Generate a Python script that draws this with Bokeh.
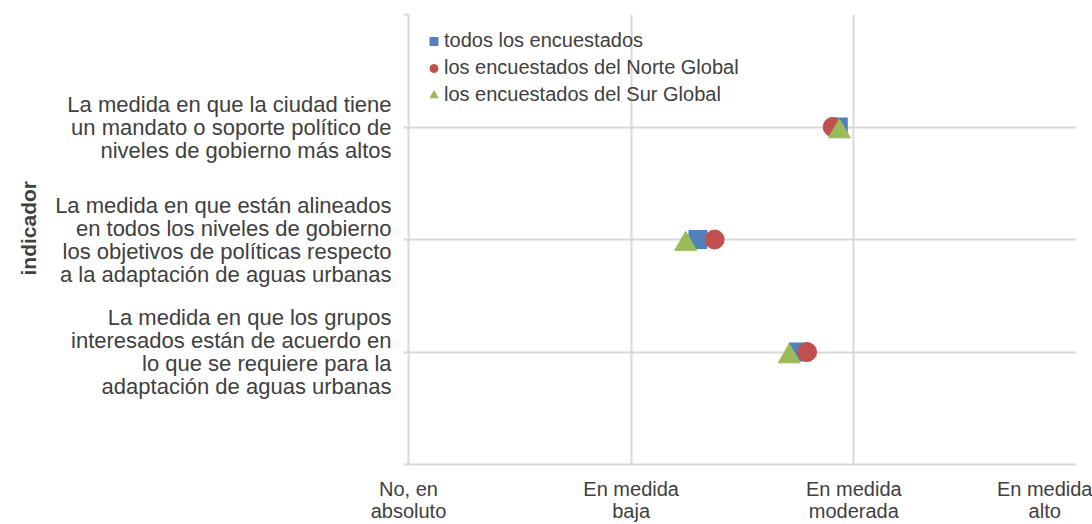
from bokeh.plotting import figure
from bokeh.models import ColumnDataSource, FixedTicker, Legend, LegendItem, Range1d, Title
from bokeh.transform import dodge
from bokeh.embed import file_html
from bokeh.resources import INLINE

# ---- data ----
indicators = [
    "La medida en que la ciudad tiene\nun mandato o soporte político de\nniveles de gobierno más altos",
    "La medida en que están alineados\nen todos los niveles de gobierno\nlos objetivos de políticas respecto\na la adaptación de aguas urbanas",
    "La medida en que los grupos\ninteresados están de acuerdo en\nlo que se requiere para la\nadaptación de aguas urbanas",
]
scale_labels = ["No, en\nabsoluto", "En medida\nbaja", "En medida\nmoderada", "En medida\nalto"]
series_names = ["todos los encuestados", "los encuestados del Norte Global", "los encuestados del Sur Global"]
axis_title = "indicador"
todos = [1.93, 1.30, 1.75]
norte = [1.905, 1.375, 1.79]
sur = [1.935, 1.245, 1.71]

TXT = "#404040"
GRID = "#d9d9d9"
FONT = "Liberation Sans"

n = len(indicators)
ypos = [n - i for i in range(n)]  # 3, 2, 1

p = figure(width=1092, height=524, output_backend="svg", toolbar_location=None,
           x_range=Range1d(0, len(scale_labels) - 1), y_range=Range1d(0, n + 1),
           min_border_left=408, min_border_top=14, min_border_right=16, min_border_bottom=60)
p.outline_line_color = None

src = ColumnDataSource(dict(y=ypos, todos=todos, norte=norte, sur=sur))

r1 = p.scatter(x="todos", y="y", source=src, marker="square", size=18,
               fill_color="#4f81bd", line_color="#4f81bd")
r2 = p.scatter(x="norte", y="y", source=src, marker="circle", size=19,
               fill_color="#c0504d", line_color="#c0504d")
r3 = p.scatter(x="sur", y=dodge("y", -0.04, range=p.y_range), source=src, marker="triangle", size=22,
               fill_color="#9bbb59", line_color="#9bbb59")

# x axis
p.xaxis.ticker = FixedTicker(ticks=list(range(len(scale_labels))))
p.xaxis.major_label_overrides = {i: s for i, s in enumerate(scale_labels)}
p.xaxis.major_label_text_font = FONT
p.xaxis.major_label_text_font_size = "20px"
p.xaxis.major_label_text_color = TXT
p.xaxis.major_label_text_line_height = 1.0
p.xaxis.major_label_standoff = 13
p.xaxis.axis_line_color = GRID
p.xaxis.axis_line_width = 2
p.xaxis.major_tick_line_color = None
p.xaxis.major_tick_out = 0
p.xaxis.major_tick_in = 0
p.xaxis.minor_tick_line_color = None

# y axis
p.yaxis.ticker = FixedTicker(ticks=list(range(n + 2)))
ov = {0: "", n + 1: ""}
for i, s in enumerate(indicators):
    ov[ypos[i]] = s
p.yaxis.major_label_overrides = ov
p.yaxis.axis_line_color = GRID
p.yaxis.axis_line_width = 2
p.yaxis.major_tick_line_color = GRID
p.yaxis.major_tick_line_width = 2
p.yaxis.major_tick_in = 0
p.yaxis.major_tick_out = 5
p.yaxis.minor_tick_line_color = None
p.yaxis.major_label_standoff = 12
p.yaxis.major_label_text_font = FONT
p.yaxis.major_label_text_font_size = "22px"
p.yaxis.major_label_text_color = TXT
p.yaxis.major_label_text_line_height = 0.92
p.yaxis.major_label_text_align = "right"

title = Title(text=axis_title, align="left", offset=189, standoff=26,
              text_font=FONT, text_font_size="21px", text_font_style="bold", text_color=TXT)
p.add_layout(title, "left")

p.xgrid.ticker = FixedTicker(ticks=list(range(1, len(scale_labels))))
p.ygrid.ticker = FixedTicker(ticks=list(range(1, n + 2)))
p.xgrid.grid_line_color = GRID
p.ygrid.grid_line_color = GRID
p.xgrid.grid_line_width = 2
p.ygrid.grid_line_width = 2

legend = Legend(items=[LegendItem(label=series_names[0], renderers=[r1]),
                       LegendItem(label=series_names[1], renderers=[r2]),
                       LegendItem(label=series_names[2], renderers=[r3])],
                location="top_left", margin=15, padding=10, spacing=4,
                glyph_width=21, glyph_height=20, label_height=20, label_standoff=0,
                border_line_color=None, background_fill_alpha=0)
legend.label_text_font = FONT
legend.label_text_font_size = "20px"
legend.label_text_color = TXT
p.add_layout(legend)

open("out.html", "w").write(file_html(p, INLINE))
